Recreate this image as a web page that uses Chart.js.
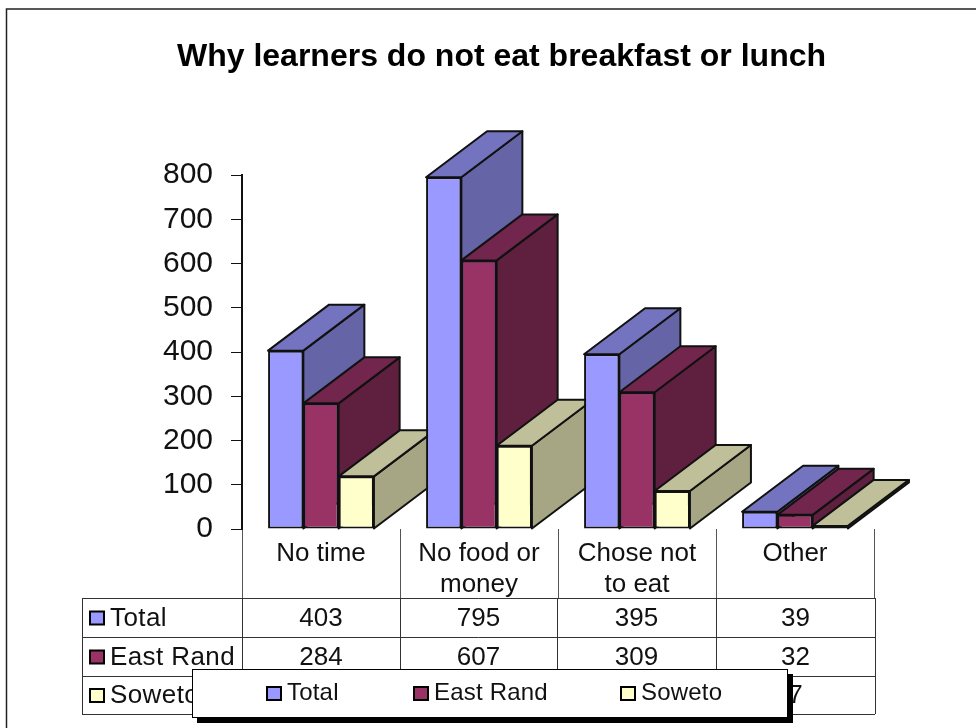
<!DOCTYPE html>
<html><head><meta charset="utf-8">
<style>html,body{margin:0;padding:0;background:#fff}canvas{display:block;filter:blur(.35px)}</style>
<script src="https://cdn.jsdelivr.net/npm/chart.js@4"></script>
</head><body><canvas id="c" width="976" height="728"></canvas>
<script>
const titleText = "Why learners do not eat breakfast or lunch";
const categories = [["No time"], ["No food or", "money"], ["Chose not", "to eat"], ["Other"]];
const totalValues = [403, 795, 395, 39];
const eastRandValues = [284, 607, 309, 32];
const sowetoValues = [119, 188, 86, 7];
const seriesNames = ["Total", "East Rand", "Soweto"];
const frontColors = ["#9999FF", "#993366", "#FFFFCC"];
const sideColors = ["#6464A6", "#5F1F3F", "#A6A684"];
const topColors = ["#7373BF", "#73264D", "#BFBF99"];
const FONT = '"Liberation Sans", Arial, sans-serif';
const INK = "#111";
const DEPTH_X = 61, DEPTH_Y = 46;
const tableCols = [82, 242, 400, 557, 716, 875];
const tableRows = [598, 637, 676, 714];
const legendBox = {l: 192, t: 669, r: 787, b: 717};
const legendKeys = [267, 414, 621];

function poly(ctx, pts, fill) {
  ctx.beginPath();
  pts.forEach((p, i) => i ? ctx.lineTo(p[0], p[1]) : ctx.moveTo(p[0], p[1]));
  ctx.closePath();
  ctx.fillStyle = fill; ctx.fill();
  ctx.strokeStyle = INK; ctx.lineWidth = 2; ctx.lineJoin = "round"; ctx.stroke();
}
function swatch(ctx, x, y, color) {
  ctx.fillStyle = color; ctx.strokeStyle = "#000"; ctx.lineWidth = 2;
  ctx.fillRect(x, y, 14, 13); ctx.strokeRect(x, y, 14, 13);
}
const bars3d = {
  id: "bars3d",
  beforeDatasetDraw() { return false; },
  afterDatasetsDraw(chart) {
    const ctx = chart.ctx;
    categories.forEach((_, i) => {
      chart.data.datasets.forEach((ds, s) => {
        const bar = chart.getDatasetMeta(s).data[i];
        const l = bar.x - bar.width / 2, r = bar.x + bar.width / 2, t = bar.y, b = bar.base;
        ctx.save();
        poly(ctx, [[r, b], [r + DEPTH_X, b - DEPTH_Y], [r + DEPTH_X, t - DEPTH_Y], [r, t]], sideColors[s]);
        poly(ctx, [[l, t], [l + DEPTH_X, t - DEPTH_Y], [r + DEPTH_X, t - DEPTH_Y], [r, t]], topColors[s]);
        ctx.restore();
        bar.draw(ctx);
      });
    });
  },
  afterDraw(chart) {
    const ctx = chart.ctx;
    ctx.save();
    // outer frame
    ctx.strokeStyle = "#222"; ctx.lineWidth = 1.5;
    ctx.beginPath(); ctx.moveTo(6.5, 728); ctx.lineTo(6.5, 9); ctx.lineTo(976, 9); ctx.stroke();
    // data table
    ctx.strokeStyle = "#333"; ctx.lineWidth = 1;
    tableRows.forEach(y => { ctx.beginPath(); ctx.moveTo(tableCols[0], y + .5); ctx.lineTo(tableCols[5], y + .5); ctx.stroke(); });
    tableCols.forEach(x => { ctx.beginPath(); ctx.moveTo(x + .5, tableRows[0]); ctx.lineTo(x + .5, tableRows[3]); ctx.stroke(); });
    ctx.textBaseline = "middle"; ctx.font = "26px " + FONT; ctx.fillStyle = "#111";
    chart.data.datasets.forEach((ds, s) => {
      const cy = (tableRows[s] + tableRows[s + 1]) / 2 + 1;
      swatch(ctx, 90, cy - 7, frontColors[s]);
      ctx.textAlign = "left"; ctx.fillStyle = "#111";
      ctx.letterSpacing = "0.4px";
      ctx.fillText(ds.label, 110, cy);
      ctx.letterSpacing = "0px";
      ctx.textAlign = "center";
      ds.data.forEach((v, i) => ctx.fillText(String(v), (tableCols[i + 1] + tableCols[i + 2]) / 2, cy));
    });
    // legend
    ctx.fillStyle = "#000";
    ctx.fillRect(legendBox.l + 5, legendBox.t + 5, legendBox.r - legendBox.l + 1, legendBox.b - legendBox.t + 1);
    ctx.fillStyle = "#fff"; ctx.fillRect(legendBox.l, legendBox.t, legendBox.r - legendBox.l, legendBox.b - legendBox.t);
    ctx.strokeStyle = "#000"; ctx.lineWidth = 1;
    ctx.strokeRect(legendBox.l + .5, legendBox.t + .5, legendBox.r - legendBox.l, legendBox.b - legendBox.t);
    ctx.font = "24px " + FONT; ctx.textAlign = "left"; ctx.letterSpacing = "0.2px";
    seriesNames.forEach((n, s) => {
      swatch(ctx, legendKeys[s], 687, frontColors[s]);
      ctx.fillStyle = "#111";
      ctx.fillText(n, legendKeys[s] + 20, 693);
    });
    ctx.restore();
  }
};
new Chart(document.getElementById("c"), {
  type: "bar",
  data: {
    labels: categories,
    datasets: [totalValues, eastRandValues, sowetoValues].map((d, s) => ({
      label: seriesNames[s], data: d, backgroundColor: frontColors[s],
      borderColor: INK, borderWidth: 2, borderSkipped: false, categoryPercentage: 0.67, barPercentage: 1
    }))
  },
  options: {
    responsive: false, animation: false, devicePixelRatio: 1,
    layout: {padding: {left: 129, right: 102, top: 0, bottom: 0}},
    plugins: {
      legend: {display: false}, tooltip: {enabled: false},
      title: {display: true, text: titleText, color: "#000",
        font: {family: FONT, size: 32, weight: "bold", lineHeight: 1.2},
        padding: {top: 38, bottom: 98.6}}
    },
    scales: {
      x: {
        grid: {offset: true, drawOnChartArea: false, drawTicks: true, tickLength: 69, color: "#555", lineWidth: 1},
        border: {display: false},
        ticks: {color: "#111", font: {family: FONT, size: 26, lineHeight: 1.2}, padding: -60, maxRotation: 0, autoSkip: false},
        afterFit(s) { s.height = 199; }
      },
      y: {
        min: 0, max: 800,
        grid: {drawOnChartArea: false, drawTicks: true, tickLength: 11, color: "#111"},
        border: {display: true, color: "#111", width: 2},
        ticks: {stepSize: 100, color: "#111", font: {family: FONT, size: 30}, padding: 18},
        afterFit(s) { s.width = 113; }
      }
    }
  },
  plugins: [bars3d]
});
</script></body></html>
